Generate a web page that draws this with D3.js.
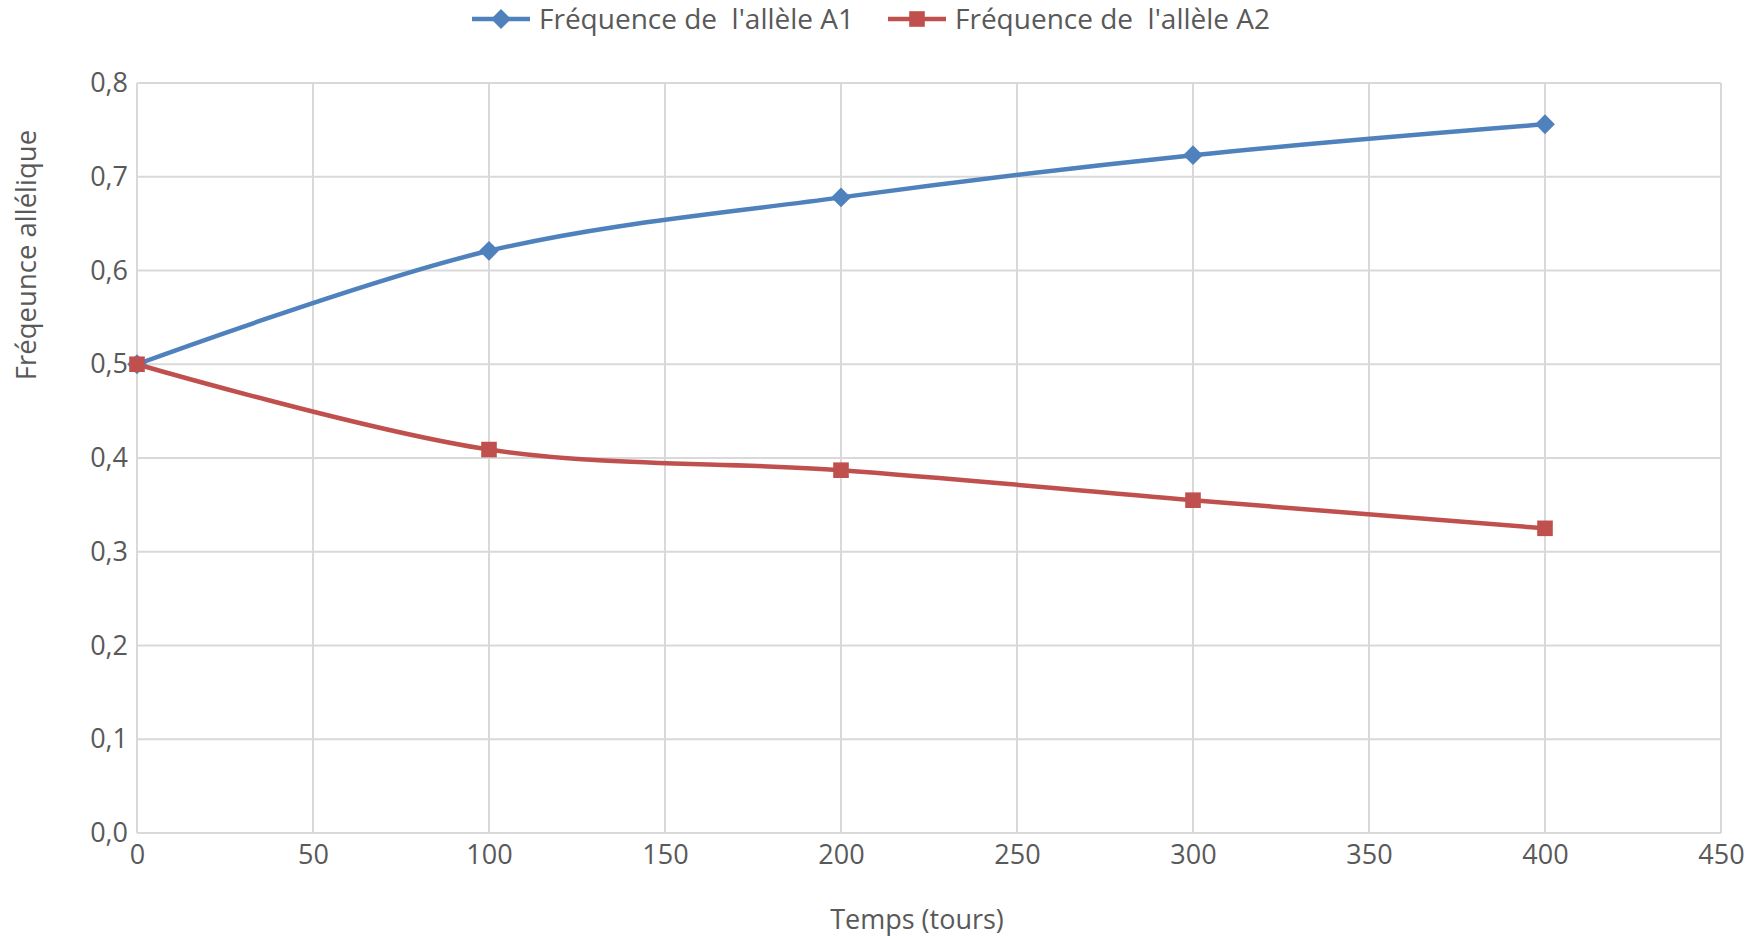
<!DOCTYPE html>
<html>
<head>
<meta charset="utf-8">
<script src="https://cdn.jsdelivr.net/npm/d3@7"></script>
<style>
  body { margin: 0; background: #fff; }
  svg { display: block; font-family: "Open Sans", sans-serif; }
  text { white-space: pre; }
</style>
</head>
<body>
<svg width="1762" height="936"></svg>
<script>
var times = [0, 100, 200, 300, 400];
var freqA1 = [0.5, 0.621, 0.678, 0.723, 0.756];
var freqA2 = [0.5, 0.409, 0.387, 0.355, 0.325];
var seriesNames = ["Fréquence de  l'allèle A1", "Fréquence de  l'allèle A2"];
var xTicks = [0, 50, 100, 150, 200, 250, 300, 350, 400, 450];
var yTicks = [0, 0.1, 0.2, 0.3, 0.4, 0.5, 0.6, 0.7, 0.8];

var svg = d3.select("svg"),
    margin = { top: 83, right: 41, bottom: 103, left: 137 },
    width = 1762 - margin.left - margin.right,
    height = 936 - margin.top - margin.bottom;

var textColor = "#595959",
    gridColor = "#d9d9d9",
    colors = ["#4f81bd", "#c0504d"];

var x = d3.scaleLinear().domain([0, 450]).range([0, width]);
var y = d3.scaleLinear().domain([0, 0.8]).range([height, 0]);

var fmt = function (d) { return d3.format(".1f")(d).replace(".", ","); };

var g = svg.append("g").attr("transform", "translate(" + margin.left + "," + margin.top + ")");

// grid
g.append("g").selectAll("line").data(yTicks).enter().append("line")
    .attr("x1", 0).attr("x2", width)
    .attr("y1", function (d) { return y(d); }).attr("y2", function (d) { return y(d); })
    .attr("stroke", gridColor).attr("stroke-width", 2);
g.append("g").selectAll("line").data(xTicks).enter().append("line")
    .attr("y1", 0).attr("y2", height)
    .attr("x1", function (d) { return x(d); }).attr("x2", function (d) { return x(d); })
    .attr("stroke", gridColor).attr("stroke-width", 2);

// axes
var xAxis = g.append("g")
    .attr("transform", "translate(0," + height + ")")
    .call(d3.axisBottom(x).tickValues(xTicks).tickSize(0).tickPadding(12));
var yAxis = g.append("g")
    .call(d3.axisLeft(y).tickValues(yTicks).tickSize(0).tickPadding(9).tickFormat(fmt));
[xAxis, yAxis].forEach(function (a) {
    a.select(".domain").remove();
    a.selectAll("text").attr("fill", textColor).attr("font-size", 27)
        .attr("font-family", "'Open Sans', sans-serif");
});

// lines
var line = d3.line()
    .x(function (d) { return x(d[0]); })
    .y(function (d) { return y(d[1]); })
    .curve(d3.curveCatmullRom.alpha(0.5));

var series = [d3.zip(times, freqA1), d3.zip(times, freqA2)];

series.forEach(function (s, i) {
    g.append("path").datum(s)
        .attr("d", line)
        .attr("fill", "none")
        .attr("stroke", colors[i])
        .attr("stroke-width", 4.5);
});

var diamond = d3.symbol().type(d3.symbolDiamond2).size(250);
var square = d3.symbol().type(d3.symbolSquare2).size(310);
var symbols = [diamond, square];

series.forEach(function (s, i) {
    g.append("g").selectAll("path").data(s).enter().append("path")
        .attr("transform", function (d) { return "translate(" + x(d[0]) + "," + y(d[1]) + ")"; })
        .attr("d", symbols[i])
        .attr("fill", colors[i]);
});

// axis titles
svg.append("text")
    .attr("x", 917).attr("y", 929)
    .attr("text-anchor", "middle")
    .attr("fill", textColor).attr("font-size", 27)
    .text("Temps (tours)");

svg.append("text")
    .attr("transform", "translate(36,255) rotate(-90)")
    .attr("text-anchor", "middle")
    .attr("fill", textColor).attr("font-size", 27.5)
    .text("Fréqeunce allélique");

// legend
var legendX = [472, 888];
var legend = svg.append("g");
seriesNames.forEach(function (name, i) {
    var lg = legend.append("g").attr("transform", "translate(" + legendX[i] + ",19)");
    lg.append("line").attr("x1", 0).attr("x2", 58).attr("y1", 0).attr("y2", 0)
        .attr("stroke", colors[i]).attr("stroke-width", 4.5);
    lg.append("path").attr("transform", "translate(29,0)").attr("d", symbols[i]).attr("fill", colors[i]);
    lg.append("text").attr("x", 67).attr("y", 0).attr("dy", "0.35em")
        .attr("fill", textColor).attr("font-size", 28)
        .text(name);
});
</script>
</body>
</html>
